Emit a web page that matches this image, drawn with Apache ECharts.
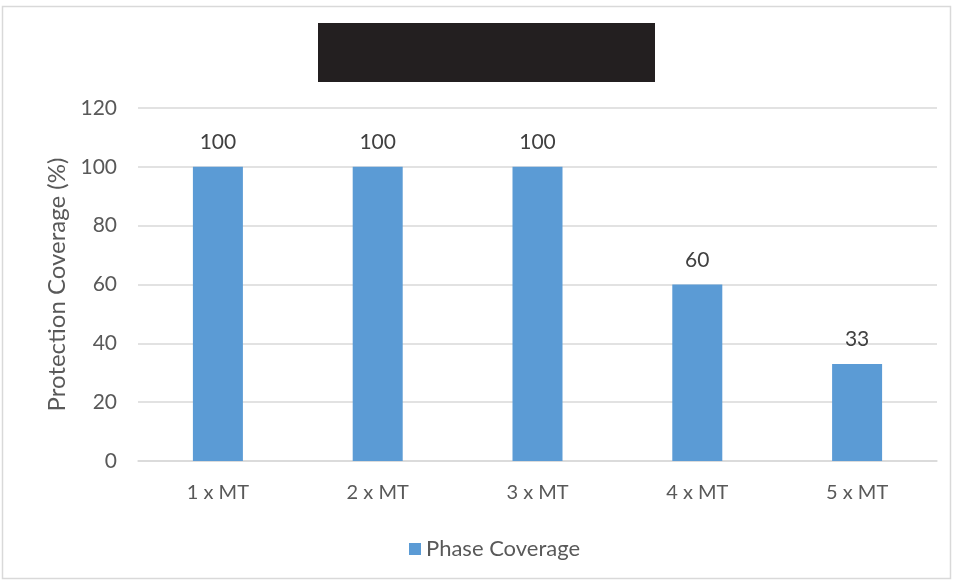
<!DOCTYPE html>
<html><head><meta charset="utf-8">
<script src="https://cdn.jsdelivr.net/npm/echarts@6/dist/echarts.min.js"></script>
<style>html,body{margin:0;padding:0;background:#fff}#c{width:955px;height:582px}</style>
</head><body><div id="c"></div>
<script>
const categories = ['1 x MT', '2 x MT', '3 x MT', '4 x MT', '5 x MT'];
const phaseCoverage = [100, 100, 100, 60, 33];
const seriesName = 'Phase Coverage';
const yAxisTitle = 'Protection Coverage (%)';

const chart = echarts.init(document.getElementById('c'), null, {renderer: 'canvas'});
const font = 'Lato, "Open Sans", sans-serif';
chart.setOption({
  animation: false,
  textStyle: {fontFamily: font},
  graphic: [
    {type: 'rect', shape: {x: 2.5, y: 6.5, width: 948, height: 572}, style: {fill: 'none', stroke: '#d9d9d9', lineWidth: 1.5}, silent: true},
    {type: 'rect', shape: {x: 318, y: 23, width: 337, height: 59}, style: {fill: '#231f20'}, silent: true}
  ],
  grid: {left: 138, right: 18, top: 108, bottom: 121, containLabel: false},
  legend: {
    data: [seriesName], left: 404, top: 533, itemWidth: 12, itemHeight: 12, icon: 'rect', itemGap: 6,
    textStyle: {color: '#595959', fontSize: 22, fontFamily: font}
  },
  xAxis: {
    type: 'category', data: categories,
    axisLine: {lineStyle: {color: '#d9d9d9', width: 1.5}},
    axisTick: {show: false},
    axisLabel: {color: '#595959', fontSize: 20, margin: 22, fontFamily: font}
  },
  yAxis: {
    type: 'value', min: 0, max: 120, interval: 20,
    name: yAxisTitle, nameLocation: 'middle', nameGap: 62, nameRotate: 90,
    nameTextStyle: {color: '#595959', fontSize: 24, fontFamily: font},
    axisLine: {show: false}, axisTick: {show: false},
    axisLabel: {color: '#595959', fontSize: 21, margin: 21, fontFamily: font},
    splitLine: {lineStyle: {color: '#d9d9d9', width: 1.5}}
  },
  series: [{
    name: seriesName, type: 'bar', data: phaseCoverage, barWidth: 50,
    itemStyle: {color: '#5b9bd5'},
    label: {show: true, position: 'top', distance: 14, color: '#404040', fontSize: 21, fontFamily: font}
  }]
});
</script></body></html>
